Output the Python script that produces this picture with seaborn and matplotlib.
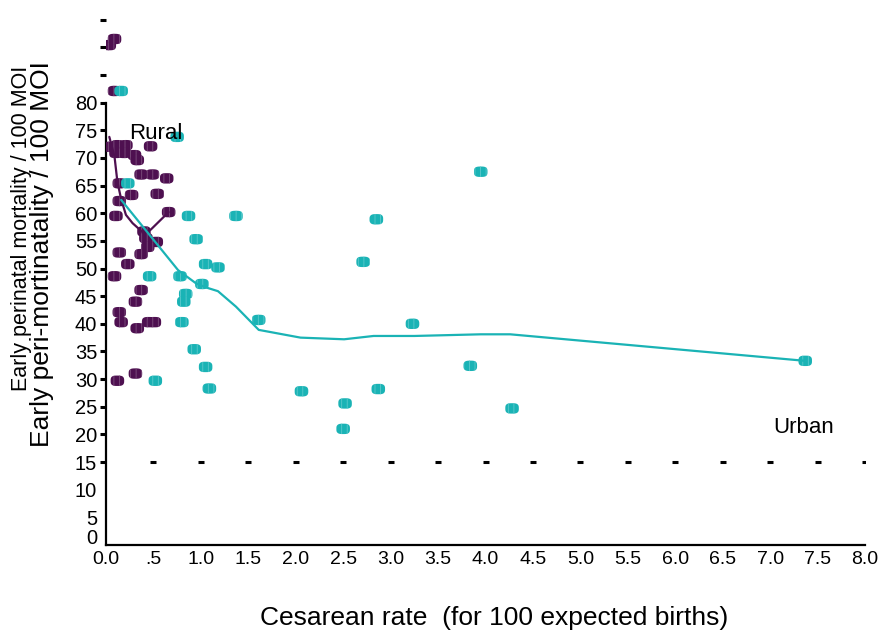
import numpy as np
import pandas as pd
import matplotlib
matplotlib.use("Agg")
import matplotlib.pyplot as plt
import seaborn as sns
from matplotlib import font_manager as fm

# ---------------- data ----------------
rural_x = [0.035, 0.09, 0.09, 0.12, 0.21, 0.47, 0.105, 0.19, 0.30, 0.33, 0.37, 0.49,
           0.64, 0.14, 0.27, 0.54, 0.14, 0.66, 0.105, 0.40, 0.42, 0.53, 0.44, 0.14,
           0.37, 0.23, 0.09, 0.37, 0.31, 0.14, 0.16, 0.33, 0.45, 0.51, 0.31, 0.12, 0.04]
rural_y = [90.4, 91.5, 82.1, 72.3, 72.3, 72.1, 70.9, 70.9, 70.5, 69.6, 67.0, 67.0,
           66.3, 65.4, 63.3, 63.5, 62.2, 60.2, 59.5, 56.7, 55.5, 54.8, 53.9, 52.9,
           52.6, 50.8, 48.6, 46.1, 44.0, 42.1, 40.3, 39.2, 40.3, 40.3, 31.0, 29.7, 72.0]

urban_x = [0.16, 0.75, 0.23, 0.87, 1.37, 0.95, 1.05, 1.18, 0.46, 0.78, 1.01, 0.84,
           0.82, 0.80, 1.61, 0.93, 1.05, 0.52, 1.09, 3.95, 2.85, 2.71, 3.23, 3.84,
           2.06, 2.52, 2.87, 4.28, 2.50, 7.37]
urban_y = [82.1, 73.8, 65.4, 59.5, 59.5, 55.3, 50.8, 50.2, 48.6, 48.6, 47.2, 45.4,
           44.0, 40.3, 40.7, 35.4, 32.2, 29.7, 28.3, 67.5, 58.9, 51.2, 40.0, 32.4,
           27.8, 25.6, 28.2, 24.7, 21.0, 33.3]

rural_line_x = [0.035, 0.09, 0.12, 0.16, 0.21, 0.28, 0.39, 0.47, 0.66]
rural_line_y = [73.8, 70.2, 65.7, 62.5, 59.7, 58.2, 56.5, 57.0, 60.2]

urban_line_x = [0.16, 0.76, 0.95, 1.05, 1.18, 1.37, 1.61, 2.05, 2.51, 2.82, 3.25,
                3.95, 4.26, 7.37]
urban_line_y = [62.4, 49.7, 47.3, 46.6, 45.9, 43.1, 38.9, 37.5, 37.2, 37.8, 37.8,
                38.1, 38.1, 33.3]

x_ticks = [0.0, 0.5, 1.0, 1.5, 2.0, 2.5, 3.0, 3.5, 4.0, 4.5, 5.0, 5.5, 6.0, 6.5,
           7.0, 7.5, 8.0]
x_tick_labels = ["0.0", ".5", "1.0", "1.5", "2.0", "2.5", "3.0", "3.5", "4.0", "4.5",
                 "5.0", "5.5", "6.0", "6.5", "7.0", "7.5", "8.0"]
y_major = [15, 20, 25, 30, 35, 40, 45, 50, 55, 60, 65, 70, 75, 80, 85, 90, 95]
y_major_labels = ["15", "20", "25", "30", "35", "40", "45", "50", "55", "60", "65",
                  "70", "75", "80", "", "", ""]
y_minor = [10, 5, 1.6]
y_minor_labels = ["10", "5", "0"]
ref_level = 15

PURPLE = "#4e1050"
CYAN = "#1ab3b5"

# ---------------- style ----------------
sns.set_theme(style="white")


def has_font(name):
    try:
        fm.findfont(fm.FontProperties(family=name), fallback_to_default=False)
        return True
    except Exception:
        return False


NARROW = "Liberation Sans Narrow" if has_font("Liberation Sans Narrow") else "Liberation Sans"
plt.rcParams["font.family"] = ["Liberation Sans", "DejaVu Sans"]
plt.rcParams["hatch.linewidth"] = 0.6
plt.rcParams["text.color"] = "black"
plt.rcParams["xtick.color"] = "black"
plt.rcParams["ytick.color"] = "black"
plt.rcParams["axes.labelcolor"] = "black"

fig = plt.figure(figsize=(8.82, 6.34), dpi=100)
ax = fig.add_axes([106 / 882, 89 / 634, (865 - 106) / 882, 545 / 634])

df = pd.concat([
    pd.DataFrame({"x": rural_x, "y": rural_y, "area": "Rural"}),
    pd.DataFrame({"x": urban_x, "y": urban_y, "area": "Urban"}),
])

# rounded-rectangle (superellipse) marker shape, wider than tall
t = np.linspace(0, 2 * np.pi, 60)
mk_verts = np.column_stack([
    1.3 * np.sign(np.cos(t)) * np.abs(np.cos(t)) ** 0.65,
    1.0 * np.sign(np.sin(t)) * np.abs(np.sin(t)) ** 0.65,
])

for area, col, hcol in [("Rural", PURPLE, "#7d4f7e"), ("Urban", CYAN, "#5cc9cc")]:
    sub = df[df["area"] == area]
    sns.scatterplot(data=sub, x="x", y="y", ax=ax, color=col, marker=mk_verts, s=95,
                    edgecolor=hcol, linewidth=0, hatch="|||", legend=False, zorder=3)

sns.lineplot(x=rural_line_x, y=rural_line_y, sort=False, ax=ax, color=PURPLE,
             lw=1.6, estimator=None, zorder=4)
sns.lineplot(x=urban_line_x, y=urban_line_y, sort=False, ax=ax, color=CYAN,
             lw=1.6, estimator=None, zorder=4)

# dashes along the 15 level
ax.plot(x_ticks[1:], [ref_level] * (len(x_ticks) - 1), ls="none", marker="_",
        ms=4.2, mew=2.2, color="black", zorder=2)

ax.set_xlim(0, 8.0)
ax.set_ylim(0, 545 / 5.53)

ax.set_xticks(x_ticks)
ax.set_xticklabels(x_tick_labels, family=NARROW, fontsize=14)
ax.tick_params(axis="x", length=0, pad=4)

ax.set_yticks(y_major)
ax.set_yticklabels(y_major_labels, family=NARROW, fontsize=14.5)
ax.set_yticks(y_minor, minor=True)
ax.set_yticklabels(y_minor_labels, minor=True, family=NARROW, fontsize=14.5)
ax.tick_params(axis="y", which="major", left=True, length=4.3, width=2.2,
               direction="out", pad=2, color="black")
ax.tick_params(axis="y", which="minor", left=True, length=0, pad=6.3)

for side in ["top", "right"]:
    ax.spines[side].set_visible(False)
ax.spines["left"].set_bounds(0, 80)
for side in ["left", "bottom"]:
    ax.spines[side].set_color("black")
    ax.spines[side].set_linewidth(1.6)

ax.set_xlabel("Cesarean rate  (for 100 expected births)", family=NARROW,
              fontsize=19, color="black")
ax.xaxis.set_label_coords((494 - 106) / (865 - 106), -(618 - 545) / 545)
ax.xaxis.label.set_va("center")
ax.set_ylabel("")

ax.text(0.24, 74.5, "Rural", fontsize=16, va="center", ha="left", color="black")
ax.text(7.03, 21.3, "Urban", fontsize=16, va="center", ha="left", color="black")

fig.text(22 / 882, 1 - 228 / 634, "Early perinatal mortality / 100 MOI", rotation=90,
         fontsize=15.5, ha="center", va="center", color="black")
fig.text(42 / 882, 1 - 254 / 634, "Early peri-mortinatality / 100 MOI", rotation=90,
         fontsize=19, ha="center", va="center", color="black")

fig.savefig("out.png", dpi=100)
